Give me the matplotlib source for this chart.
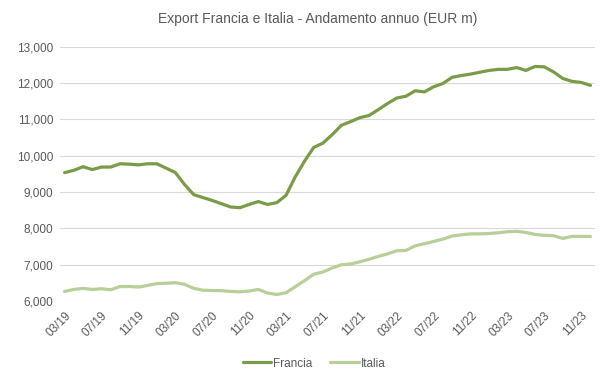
import matplotlib.pyplot as plt
import pandas as pd

# dati mensili 03/2019 - 12/2023 (EUR m, somma mobile annua)
mesi = pd.date_range("2019-03-01", "2023-12-01", freq="MS")

francia = [9536, 9600, 9700, 9620, 9690, 9690, 9780, 9770, 9750, 9780,
           9780, 9660, 9540, 9210, 8930, 8850, 8770, 8680, 8590, 8570,
           8660, 8740, 8660, 8710, 8910, 9420, 9850, 10230, 10350, 10580,
           10840, 10940, 11050, 11110, 11270, 11440, 11590, 11640, 11790, 11760,
           11900, 11990, 12160, 12210, 12250, 12300, 12350, 12380, 12380, 12430,
           12350, 12460, 12450, 12310, 12130, 12050, 12020, 11940]

italia = [6266, 6320, 6350, 6320, 6340, 6310, 6400, 6400, 6385, 6430,
          6480, 6490, 6505, 6460, 6350, 6300, 6290, 6285, 6265, 6255,
          6275, 6320, 6220, 6180, 6230, 6395, 6560, 6740, 6800, 6910,
          7000, 7020, 7080, 7150, 7230, 7300, 7385, 7395, 7520, 7580,
          7640, 7705, 7790, 7825, 7850, 7850, 7860, 7880, 7910, 7920,
          7890, 7835, 7810, 7800, 7725, 7780, 7780, 7780]

etichette = [m.strftime("%m/%y") for m in mesi]

COL_FR = "#7B9B48"
COL_IT = "#B7D09A"
GRIGIO = "#595959"

plt.rcParams['font.family'] = ['Liberation Sans', 'DejaVu Sans']

fig = plt.figure(figsize=(6.16, 3.84), dpi=100)
ax = fig.add_axes([0.0974, 0.216, 0.8686, 0.662])

x = list(range(len(mesi)))
ax.plot(x, francia, color=COL_FR, lw=2.3, label="Francia", solid_capstyle="round")
ax.plot(x, italia, color=COL_IT, lw=2.3, label="Italia", solid_capstyle="round")

ax.set_ylim(6000, 13000)
ax.set_yticks(range(6000, 13001, 1000))
ax.set_yticklabels([f"{v:,}" for v in range(6000, 13001, 1000)])
ax.set_xlim(-0.5, len(mesi) - 0.5)
ax.set_xticks(x[::4])
ax.set_xticklabels(etichette[::4], rotation=45, ha="right", rotation_mode="anchor")

ax.grid(axis="y", color="#D9D9D9", lw=0.8)
ax.set_axisbelow(True)
for s in ax.spines.values():
    s.set_visible(False)
ax.tick_params(length=0, colors=GRIGIO, labelsize=8.5)
ax.tick_params(axis="y", pad=5)
ax.tick_params(axis="x", pad=6)

fig.suptitle("Export Francia e Italia - Andamento annuo (EUR m)", x=0.516, y=0.97,
             fontsize=10, color=GRIGIO)
fig.legend(loc="lower center", bbox_to_anchor=(0.51, 0.01), ncol=2, frameon=False,
           fontsize=8.5, labelcolor=GRIGIO, handlelength=2.4, handletextpad=0.2,
           columnspacing=1.5)

fig.savefig("out.png", dpi=100)
